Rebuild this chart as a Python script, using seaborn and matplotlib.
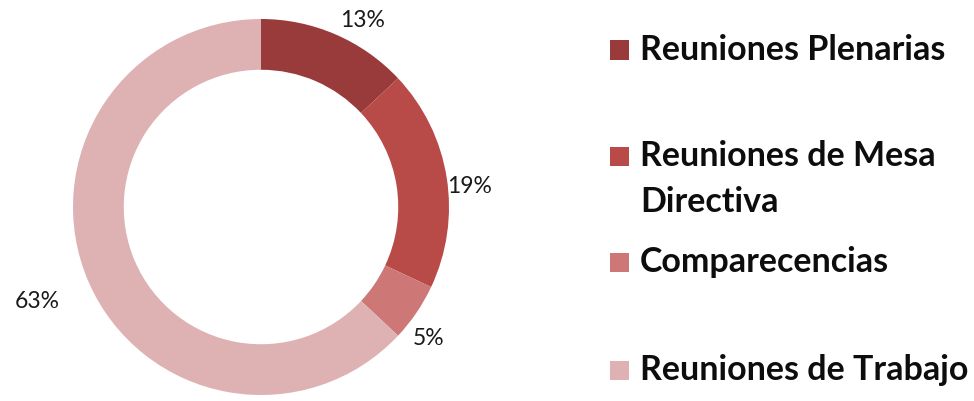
import matplotlib
matplotlib.use("Agg")
import matplotlib.pyplot as plt
from matplotlib.patches import Rectangle
import seaborn as sns

# ---- data ----
categories = ["Reuniones Plenarias", "Reuniones de Mesa\nDirectiva",
              "Comparecencias", "Reuniones de Trabajo"]
values = [13, 19, 5, 63]
pct_labels = ["13%", "19%", "5%", "63%"]
colors = ["#983B3A", "#B84A47", "#CD7876", "#DEB2B2"]

# ---- style ----
sns.set_theme(style="white")
plt.rcParams["font.family"] = ["Lato", "DejaVu Sans"]

W, H = 974, 401
fig = plt.figure(figsize=(W / 100, H / 100), dpi=100)
fig.patch.set_facecolor("white")

# pie axes: centre (261, 207) px, outer radius 188 px
cx, cy, R = 261, 207, 188
ax = fig.add_axes([(cx - R) / W, (H - cy - R) / H, 2 * R / W, 2 * R / H])
wedges, _ = ax.pie(values, colors=colors, startangle=90, counterclock=False,
                   radius=1.0, wedgeprops=dict(width=0.27, linewidth=0))
ax.set_xlim(-1, 1)
ax.set_ylim(-1, 1)
ax.set_aspect("equal")
ax.axis("off")

# percentage labels (data coords of label centres)
label_xy = [(0.54, 0.99), (1.11, 0.11), (0.89, -0.70), (-1.19, -0.50)]
for (lx, ly), t in zip(label_xy, pct_labels):
    ax.text(lx, ly, t, ha="center", va="center", fontsize=16.5, color="#1a1a1a",
            clip_on=False)

# legend (manual, to match the uneven spacing of the original)
sq = 19
square_cy = [50, 157, 262, 370]
baseline_y = [60, 212, 272, 380]   # baseline of the last text line
text_x = 640
for c, lab, ycen, yb in zip(colors, categories, square_cy, baseline_y):
    fig.patches.append(Rectangle((610 / W, (H - ycen - sq / 2) / H), sq / W, sq / H,
                                 transform=fig.transFigure, facecolor=c,
                                 edgecolor="none"))
    fig.text(text_x / W, (H - yb) / H, lab, ha="left", va="baseline",
             fontsize=24.5, fontweight="bold", color="#0d0d0d", linespacing=1.55)

fig.savefig("out.png", dpi=100, facecolor="white")
